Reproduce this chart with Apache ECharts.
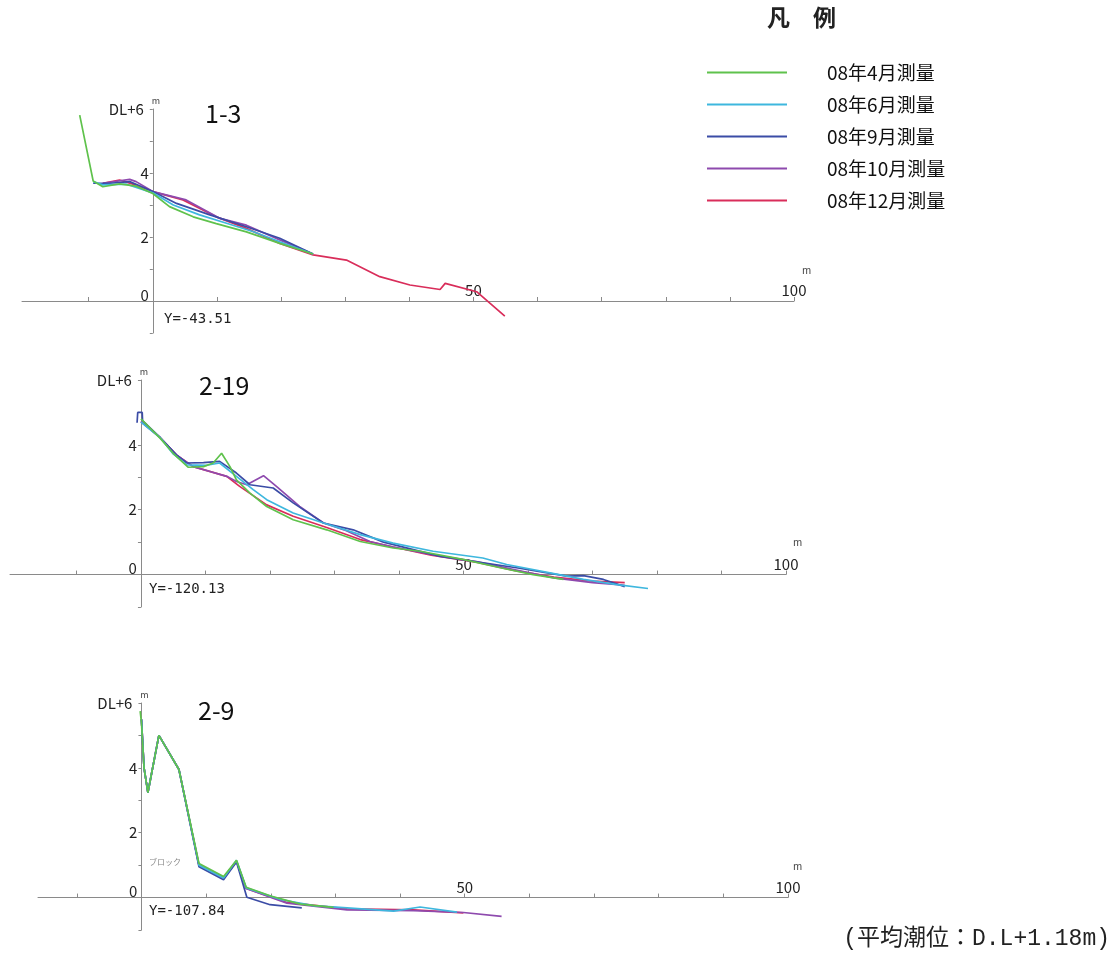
<!DOCTYPE html>
<html><head><meta charset="utf-8">
<script src="https://cdn.jsdelivr.net/npm/echarts@6/dist/echarts.min.js"></script>
<style>html,body{margin:0;padding:0;background:#fff}#c{width:1115px;height:958px}</style>
</head><body><div id="c"></div>
<script>
// ---- data (x: distance m, y: height DL m) ----
const seriesNames = ['08年4月測量','08年6月測量','08年9月測量','08年10月測量','08年12月測量'];
const seriesColors = ['#5fc24c','#3eb7de','#3b4ca6','#8e4aae','#d92d5a'];
const panelTitles = ['1-3','2-19','2-9'];
const panelYLabels = ['Y=-43.51','Y=-120.13','Y=-107.84'];
const xTickValues = [-10,0,10,20,30,40,50,60,70,80,90,100];
const xLabelValues = [50,100];

// Panel 1-3
const apr1 = [[-11.4,5.81],[-9.3,3.75],[-7.8,3.57],[-5.2,3.66],[-2.6,3.59],[0,3.36],[2.6,2.95],[6.3,2.63],[9.9,2.42],[14.6,2.16],[19.8,1.8],[25,1.47]];
const jun1 = [[-9.3,3.73],[-7.8,3.63],[-4.1,3.65],[0,3.38],[3.2,3.0],[7.3,2.69],[11.5,2.43],[15.6,2.17],[19.8,1.85],[25,1.47]];
const sep1 = [[-9.3,3.68],[-6.7,3.68],[-3.6,3.73],[0,3.42],[3.7,3.05],[8.9,2.69],[14.6,2.32],[19.8,1.96],[25,1.47]];
const oct1 = [[-7.8,3.68],[-3.6,3.8],[-2.6,3.73],[0,3.42],[5.2,3.16],[10.5,2.58],[14.6,2.37],[19.8,1.91],[25,1.47]];
const dec1 = [[-7.8,3.68],[-5.2,3.78],[-2.6,3.62],[0,3.42],[4.7,3.16],[9.9,2.63],[14.6,2.27],[19.8,1.8],[25,1.44],[30.2,1.28],[35.4,0.76],[40.1,0.5],[44.8,0.36],[45.6,0.55],[50.5,0.29],[54.9,-0.47]];

// Panel 2-19
const apr2 = [[0,4.8],[3,4.2],[5,3.74],[7.3,3.31],[9.7,3.33],[11.2,3.44],[12.5,3.74],[13.8,3.33],[14.8,2.92],[16.9,2.51],[19.5,2.1],[23.6,1.69],[28.8,1.38],[34,1.02],[39.1,0.82],[43.3,0.72],[50.1,0.46],[55.7,0.21],[60.8,0.0],[65.5,-0.15]];
const jun2 = [[0,4.7],[3,4.22],[5,3.72],[7.1,3.38],[10.2,3.37],[12.2,3.44],[14.8,3.03],[17.4,2.62],[19.5,2.31],[23.6,1.9],[28.3,1.59],[34,1.23],[39.1,0.97],[45.3,0.72],[53,0.51],[56.7,0.31],[63.4,0.05],[68.6,-0.15],[73.8,-0.31],[78.6,-0.43]];
const sep2 = [[-0.6,4.68],[-0.5,5.0],[0.2,5.0],[0.25,4.75],[3,4.22],[5.5,3.69],[7.1,3.44],[9.7,3.45],[12.2,3.49],[14.8,3.13],[16.9,2.77],[20.5,2.67],[23.6,2.21],[28.3,1.59],[32.9,1.38],[37.6,1.0],[46.4,0.56],[58.2,0.21],[66,-0.05],[68.6,-0.03],[71.7,-0.15],[75,-0.37]];
const oct2 = [[0,4.72],[3,4.22],[5.5,3.69],[8.1,3.33],[10.7,3.18],[13.3,3.03],[14.8,2.87],[16.4,2.77],[19,3.05],[21,2.72],[24.6,2.1],[28.3,1.59],[31.5,1.38],[35.5,1.02],[39.1,0.85],[45,0.62],[52,0.4],[58,0.15],[64,-0.1],[70,-0.25],[75,-0.33]];
const dec2 = [[0,4.72],[3,4.22],[5.5,3.69],[8.1,3.33],[13.3,3.03],[15.3,2.72],[19.5,2.15],[23.6,1.8],[28.8,1.45],[34,1.08],[39.1,0.85],[45,0.6],[52,0.38],[58,0.12],[64,-0.08],[70,-0.2],[75,-0.25]];

// Panel 2-9
const apr3 = [[-0.2,5.75],[0,5.4],[0.4,4.0],[1.0,3.24],[2.7,5.0],[5.8,3.95],[8.9,1.05],[12.7,0.65],[14.7,1.15],[16.2,0.32],[20,0.05],[24.6,-0.2],[29.7,-0.3]];
const jun3 = [[0,5.5],[0.4,4.0],[1.0,3.24],[2.7,5.0],[5.8,3.95],[8.9,1.0],[12.7,0.6],[14.7,1.15],[16.2,0.3],[21.5,-0.06],[26.6,-0.25],[31.8,-0.32],[39,-0.42],[43.1,-0.29],[48.8,-0.45]];
const sep3 = [[0,5.5],[0.4,4.0],[1.0,3.24],[2.7,5.0],[5.8,3.95],[8.9,0.95],[12.7,0.55],[14.7,1.1],[16.3,0.01],[19.9,-0.22],[24.8,-0.32]];
const oct3 = [[0,5.5],[0.4,4.0],[1.0,3.24],[2.7,5.0],[5.8,3.95],[8.9,1.0],[12.7,0.6],[14.7,1.12],[16.2,0.28],[22.5,-0.17],[31.8,-0.38],[42.1,-0.4],[49.8,-0.46],[55.7,-0.58]];
const dec3 = [[0,5.5],[0.4,4.0],[1.0,3.24],[2.7,5.0],[5.8,3.95],[8.9,1.0],[12.7,0.6],[14.7,1.12],[16.2,0.28],[22.5,-0.15],[31.8,-0.35],[42.1,-0.38],[49.8,-0.47]];

const panels = [
  [apr1, jun1, sep1, oct1, dec1],
  [apr2, jun2, sep2, oct2, dec2],
  [apr3, jun3, sep3, oct3, dec3]
];
const xMins = [-20.4, -20.3, -16];
const X_MAX = 100, Y_MIN = -1, Y_MAX = 6;

// ---- layout ----
const grids = [
  {left: 22, top: 109, width: 772, height: 224},
  {left: 10, top: 380, width: 776, height: 227},
  {left: 38, top: 703, width: 750, height: 227}
].map(g => Object.assign(g, {containLabel: false, outerBoundsMode: 'none'}));
const FONT = '"Noto Sans CJK JP", "Noto Sans", sans-serif';
const MONO = '"DejaVu Sans Mono", monospace';
const AXIS_COLOR = '#8a8a8a';

// axes cross at (0,0): shift each axis from the grid edge to the zero of the other axis
const xAxes = grids.map((g, i) => ({
  type: 'value', gridIndex: i, min: xMins[i], max: X_MAX, position: 'bottom',
  offset: -g.height * (0 - Y_MIN) / (Y_MAX - Y_MIN),
  splitLine: {show: false},
  axisLine: {onZero: false, lineStyle: {color: AXIS_COLOR, width: 1}},
  axisTick: {show: true, inside: true, length: 4, customValues: xTickValues, lineStyle: {color: AXIS_COLOR}},
  axisLabel: {inside: true, margin: 3, customValues: xLabelValues, color: '#222', fontSize: 15, fontFamily: FONT}
}));
const yAxes = grids.map((g, i) => ({
  type: 'value', gridIndex: i, min: Y_MIN, max: Y_MAX, interval: 1, position: 'left',
  offset: -g.width * (0 - xMins[i]) / (X_MAX - xMins[i]),
  splitLine: {show: false},
  name: 'm', nameGap: 4, nameTextStyle: {fontSize: 9, color: '#444', fontFamily: FONT, padding: [0,0,0,6]},
  axisLine: {onZero: false, lineStyle: {color: AXIS_COLOR, width: 1}},
  axisTick: {show: true, length: 3, lineStyle: {color: AXIS_COLOR}},
  axisLabel: {
    margin: 4, color: '#222', fontSize: 15, fontFamily: FONT,
    formatter: v => v === 6 ? '{d|DL+6}' : (v === 0 ? '{z|0}' : (v === 2 || v === 4 ? String(v) : '')),
    rich: {
      d: {fontSize: 15, fontFamily: FONT, color: '#222', padding: [0, 5, 0, 0]},
      z: {fontSize: 15, fontFamily: FONT, color: '#222', padding: [0, 0, 12, 0]}
    }
  }
}));

const series = [];
const drawOrder = [4, 3, 2, 1, 0];
panels.forEach((sets, p) => {
  drawOrder.forEach(k => {
    series.push({
      name: seriesNames[k], type: 'line', xAxisIndex: p, yAxisIndex: p,
      data: sets[k], symbol: 'none', showSymbol: false, animation: false,
      color: seriesColors[k], lineStyle: {width: 1.7, color: seriesColors[k]}, z: 3 + (4 - k)
    });
  });
});

const graphic = [];
const titlePos = [[205, 101], [199, 373], [198, 698]];
const yLabPos = [[164, 312], [149, 582], [149, 904]];
const mPos = [[802, 265], [793, 537], [793, 861]];
panelTitles.forEach((t, i) => {
  graphic.push({type: 'text', left: titlePos[i][0], top: titlePos[i][1], style: {text: t, fontSize: 25, fontFamily: FONT, fill: '#111'}});
  graphic.push({type: 'text', left: yLabPos[i][0], top: yLabPos[i][1], style: {text: panelYLabels[i], fontSize: 14, fontFamily: MONO, fill: '#222'}});
  graphic.push({type: 'text', left: mPos[i][0], top: mPos[i][1], style: {text: 'm', fontSize: 10, fontFamily: FONT, fill: '#444'}});
});
graphic.push({type: 'text', left: 149, top: 858, style: {text: 'ブロック', fontSize: 8, fontFamily: FONT, fill: '#888'}});
graphic.push({type: 'text', left: 767, top: 6, style: {text: '凡　例', fontSize: 23, fontWeight: 'bold', fontFamily: FONT, fill: '#222'}});
graphic.push({type: 'text', right: 5, top: 927, style: {text: '(平均潮位：D.L+1.18m)', fontSize: 23, fontFamily: '"Liberation Mono", "Noto Sans CJK JP", monospace', fill: '#222'}});

const chart = echarts.init(document.getElementById('c'));
chart.setOption({
  backgroundColor: '#fff',
  animation: false,
  grid: grids,
  xAxis: xAxes,
  yAxis: yAxes,
  legend: {
    orient: 'vertical', left: 707, top: 63, padding: 0,
    data: seriesNames, icon: 'rect',
    itemWidth: 80, itemHeight: 2, itemGap: 13,
    textStyle: {fontSize: 19, fontFamily: FONT, color: '#111', padding: [0, 0, 0, 35], lineHeight: 18}
  },
  graphic: graphic,
  series: series
});
</script></body></html>
